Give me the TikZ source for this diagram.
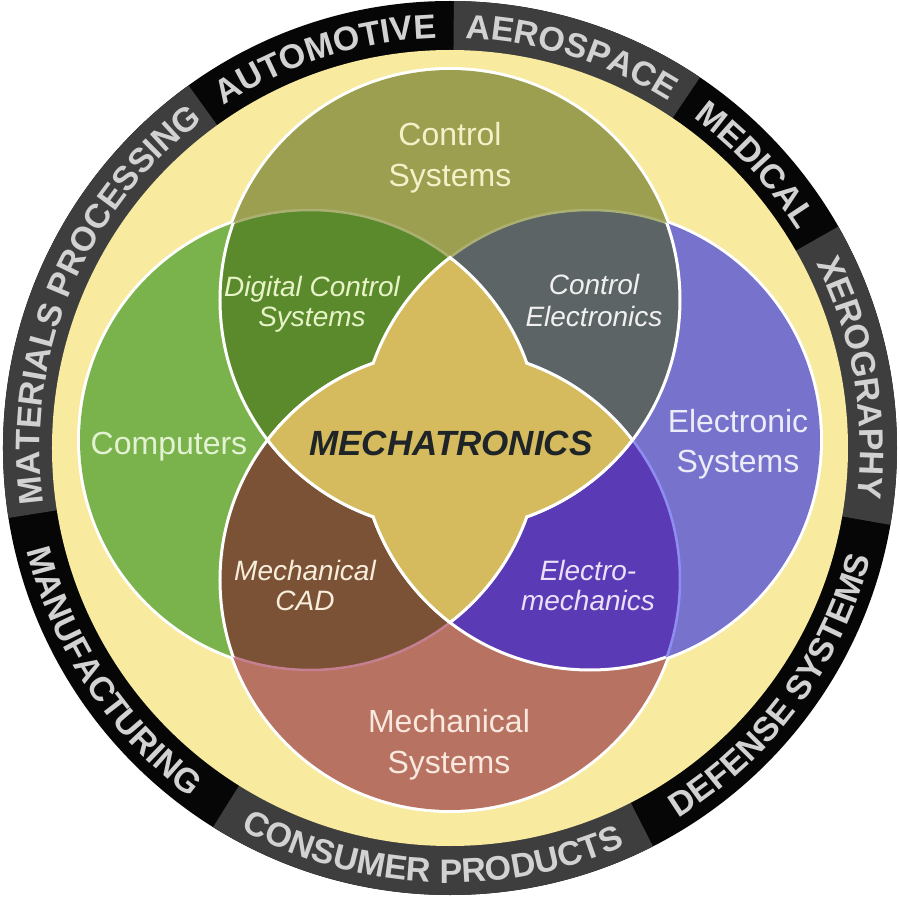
\documentclass[tikz,border=0pt]{standalone}
\usepackage{fontspec}
\setmainfont{Liberation Sans}
\usetikzlibrary{decorations.text}
\definecolor{ringblack}{HTML}{060606}
\definecolor{ringgray}{HTML}{3E3E3E}
\definecolor{ringtxt}{HTML}{D2D2D2}
\definecolor{bgyellow}{HTML}{F8EA9E}
\definecolor{ctrlsys}{HTML}{9D9F50}
\definecolor{digctrl}{HTML}{5B8A2C}
\definecolor{ctrlelec}{HTML}{5C6466}
\definecolor{computers}{HTML}{7AB34C}
\definecolor{elecsys}{HTML}{7773CC}
\definecolor{mechcad}{HTML}{7B5236}
\definecolor{elecmech}{HTML}{5B3BB5}
\definecolor{mechsys}{HTML}{B87262}
\definecolor{mechatr}{HTML}{D5BA5E}
\definecolor{bluefaint}{HTML}{8F8DF2}
\definecolor{pinkfaint}{HTML}{C48090}
\definecolor{olivefaint}{HTML}{AAB072}
\definecolor{txtcream}{HTML}{F4F0C8}
\definecolor{txtgreen}{HTML}{E4F2D4}
\definecolor{txtlav}{HTML}{ECEBF8}
\definecolor{txtpink}{HTML}{F8E8DE}
\definecolor{txtdig}{HTML}{E8F4C8}
\definecolor{txtce}{HTML}{F0F0F0}
\definecolor{txtcad}{HTML}{F8EEDC}
\definecolor{txtem}{HTML}{EAE0F8}
\definecolor{txtmech}{HTML}{1E2428}
\newcommand\ringfont{\fontsize{34}{36}\selectfont\bfseries}
\newcommand\outerfont{\fontsize{32}{36}\selectfont}
\newcommand\innerfont{\fontsize{28}{32}\selectfont\itshape}
\newcommand\ringtop[3]{\path[decorate,decoration={text along path,text align=center,text color=ringtxt,text={|\ringfont|#3}}] (#1:410pt) arc[start angle=#1,end angle=#2,radius=410pt];}
\newcommand\ringbot[3]{\path[decorate,decoration={text along path,text align=center,text color=ringtxt,text={|\ringfont|#3}}] (#1:435pt) arc[start angle=#1,end angle=#2,radius=435pt];}
\begin{document}
\begin{tikzpicture}[x=1pt,y=1pt,
  halo/.style={draw=white,line width=6pt},
  whiteline/.style={draw=white,line width=3pt},
  faint/.style={line width=2.5pt},
  outerlbl/.style={anchor=base,font=\outerfont,inner sep=0pt},
  innerlbl/.style={anchor=base,font=\innerfont,inner sep=0pt},
  starshape/.style={fill=mechatr,draw=white,line width=3pt,line join=miter}]
\useasboundingbox (-450,-452) rectangle (450,448);
\fill[white] (-450,-452) rectangle (450,448);
% outer ring
\fill[ringblack] (0,0) circle[radius=447pt];
\foreach \a/\b in {125.8/189, 56/89.5, -9.9/29.7, -122/-63}
  \fill[ringgray] (0,0) -- (\a:447pt) arc[start angle=\a,end angle=\b,radius=447pt] -- cycle;
\fill[bgyellow] (0,0) circle[radius=398pt];
% ring labels
\ringtop{189}{125.8}{MATERIALS PROCESSING}
\ringtop{125.8}{89.5}{AUTOMOTIVE}
\ringtop{89.5}{56}{AEROSPACE}
\ringtop{56}{29.7}{MEDICAL}
\ringtop{29.7}{-9.9}{XEROGRAPHY}
\ringbot{-63}{-9.9}{DEFENSE SYSTEMS}
\ringbot{-122}{-63}{CONSUMER PRODUCTS}
\ringbot{189}{238}{MANUFACTURING}
% circle centres
\coordinate (cT) at (0,148);
\coordinate (cB) at (0,-132);
\coordinate (cL) at (-140,8);
\coordinate (cR) at (140,8);
% white halo
\foreach \c in {cT,cB,cL,cR} \draw[halo] (\c) circle[radius=230pt];
% base fills
\fill[ctrlsys] (cT) circle[radius=230pt];
\fill[computers] (cL) circle[radius=230pt];
\fill[elecsys] (cR) circle[radius=230pt];
\fill[mechsys] (cB) circle[radius=230pt];
% overlaps with top circle
\begin{scope}
  \clip (cT) circle[radius=230pt];
  \fill[digctrl] (cL) circle[radius=230pt];
  \fill[ctrlelec] (cR) circle[radius=230pt];
  \draw[faint,draw=olivefaint] (cL) circle[radius=230pt];
  \draw[faint,draw=olivefaint] (cR) circle[radius=230pt];
\end{scope}
% overlaps with bottom circle
\begin{scope}
  \clip (cB) circle[radius=230pt];
  \fill[mechcad] (cL) circle[radius=230pt];
  \fill[elecmech] (cR) circle[radius=230pt];
  \draw[faint,draw=pinkfaint] (cL) circle[radius=230pt];
  \draw[whiteline] (cR) circle[radius=230pt];
\end{scope}
\begin{scope}
  \clip (cL) circle[radius=230pt];
  \draw[whiteline] (cT) circle[radius=230pt];
  \draw[whiteline] (cB) circle[radius=230pt];
\end{scope}
\begin{scope}
  \clip (cR) circle[radius=230pt];
  \draw[whiteline] (cT) circle[radius=230pt];
  \draw[faint,draw=bluefaint] (cB) circle[radius=230pt];
\end{scope}
% central star
\filldraw[starshape] (0,190.5)
  arc[start angle=127.5,end angle=160.5,radius=230pt]
  arc[start angle=109.5,end angle=142.5,radius=230pt]
  arc[start angle=217.5,end angle=250.5,radius=230pt]
  arc[start angle=199.5,end angle=232.5,radius=230pt]
  arc[start angle=307.5,end angle=340.5,radius=230pt]
  arc[start angle=289.5,end angle=322.5,radius=230pt]
  arc[start angle=37.5,end angle=70.5,radius=230pt]
  arc[start angle=19.5,end angle=52.5,radius=230pt] -- cycle;
% labels
\node[outerlbl,text=txtcream] (cs1) at (0,302) {Control};
\node[outerlbl,text=txtcream] (cs2) at (0,261) {Systems};
\node[outerlbl,text=txtgreen] (cmp) at (-281,-6) {Computers};
\node[outerlbl,text=txtlav] (es1) at (288,16) {Electronic};
\node[outerlbl,text=txtlav] (es2) at (288,-24) {Systems};
\node[outerlbl,text=txtpink] (ms1) at (-1,-284) {Mechanical};
\node[outerlbl,text=txtpink] (ms2) at (-1,-325) {Systems};
\node[innerlbl,text=txtdig] (dc1) at (-138,151) {Digital Control};
\node[innerlbl,text=txtdig] (dc2) at (-138,121) {Systems};
\node[innerlbl,text=txtce] (ce1) at (144,153) {Control};
\node[innerlbl,text=txtce] (ce2) at (144,121) {Electronics};
\node[innerlbl,text=txtcad] (mc1) at (-145,-132) {Mechanical};
\node[innerlbl,text=txtcad] (mc2) at (-145,-162) {CAD};
\node[innerlbl,text=txtem] (em1) at (138,-132) {Electro-};
\node[innerlbl,text=txtem] (em2) at (138,-162) {mechanics};
\node[anchor=base,inner sep=0pt,text=txtmech,font={\fontsize{35}{38}\selectfont\bfseries\itshape}] (mech) at (1,-7) {MECHATRONICS};
\end{tikzpicture}
\end{document}
